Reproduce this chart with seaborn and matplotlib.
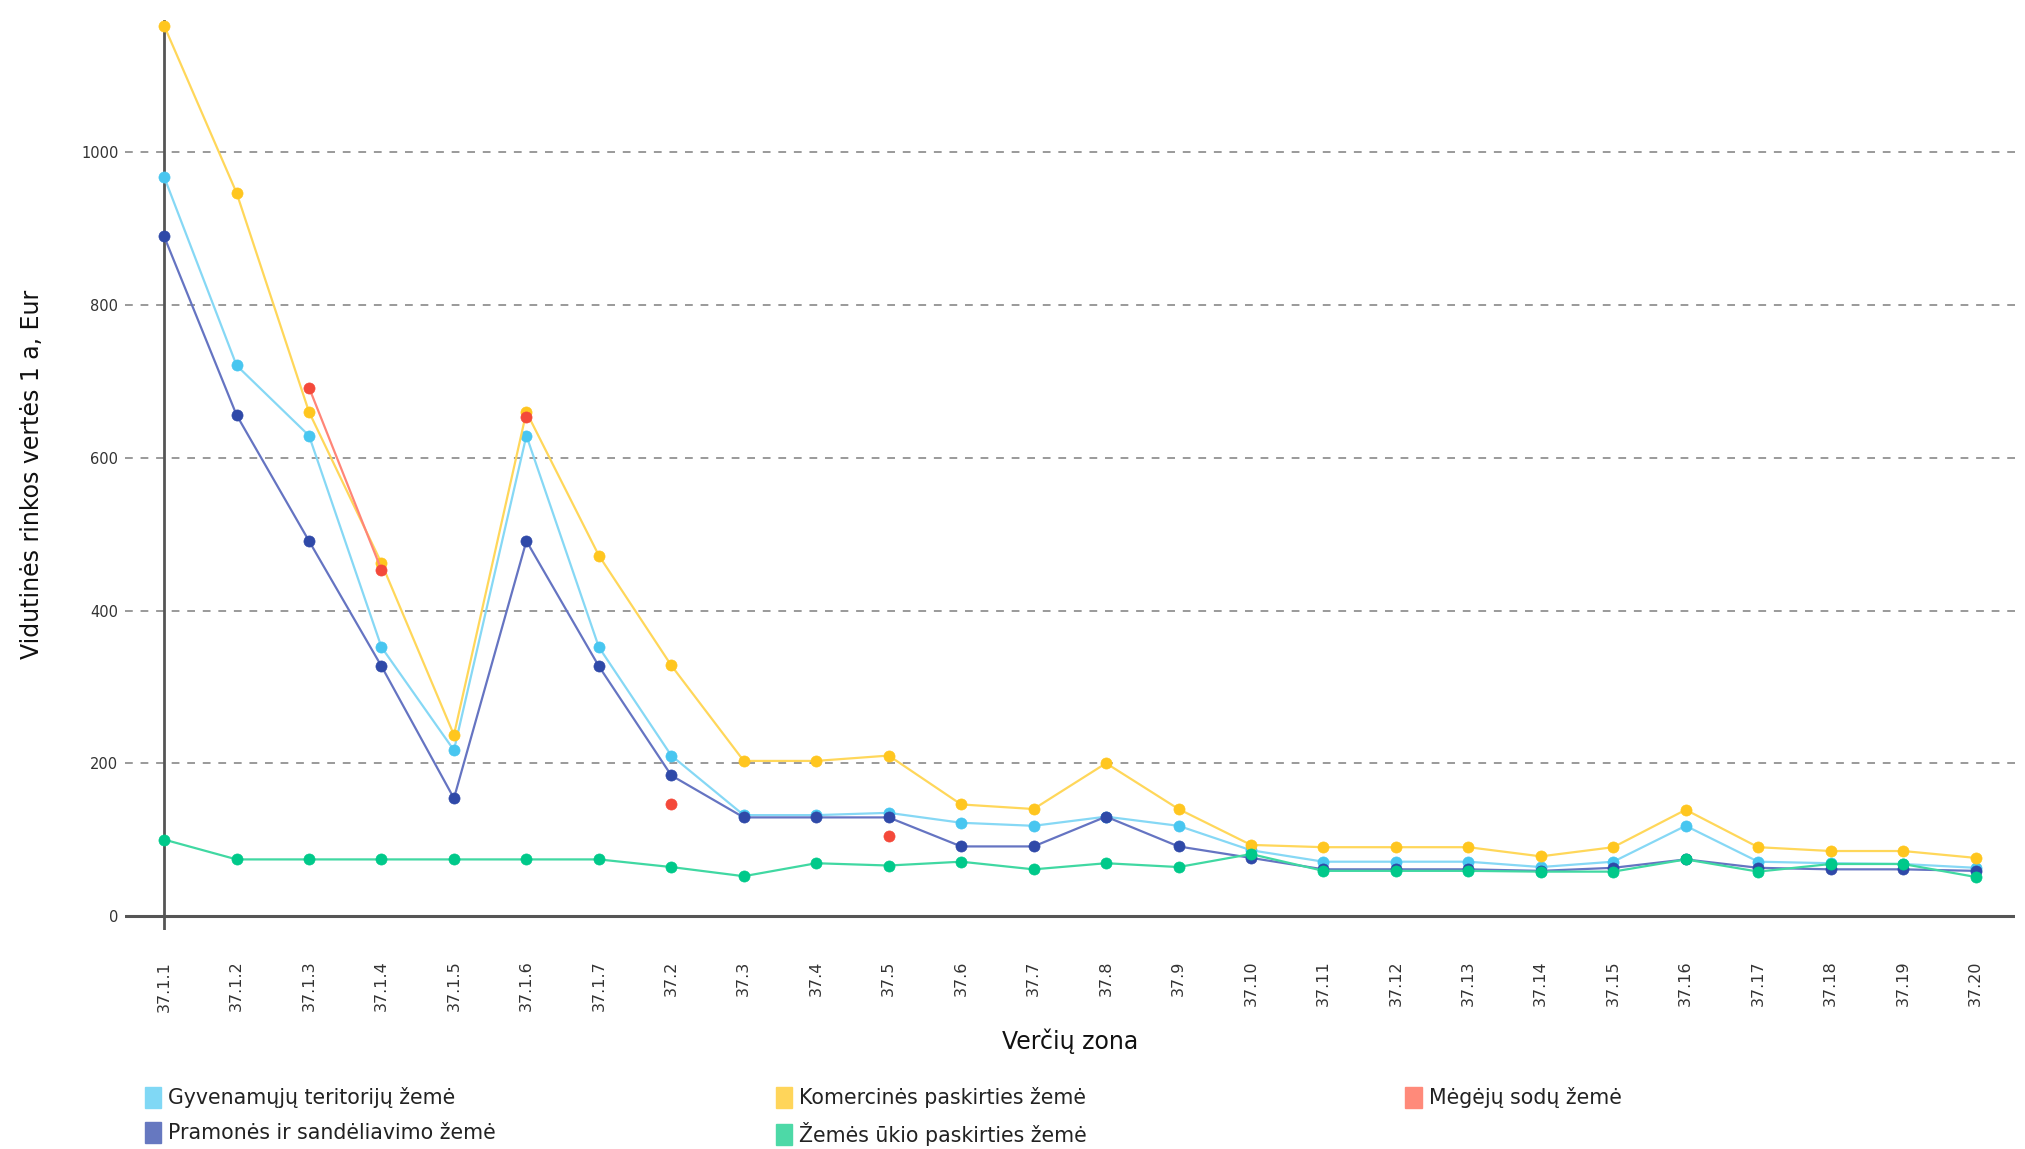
import numpy as np
import matplotlib.pyplot as plt
import seaborn as sns
from matplotlib.patches import Patch

# Zones on the x axis
zones = ["37.1.1", "37.1.2", "37.1.3", "37.1.4", "37.1.5", "37.1.6", "37.1.7",
         "37.2", "37.3", "37.4", "37.5", "37.6", "37.7", "37.8", "37.9", "37.10",
         "37.11", "37.12", "37.13", "37.14", "37.15", "37.16", "37.17", "37.18",
         "37.19", "37.20"]

# Average market value per 1 a, Eur
gyvenamuju = [968, 721, 629, 352, 217, 629, 352, 210, 132, 132, 135, 122, 118,
              130, 118, 86, 71, 71, 71, 64, 71, 118, 71, 69, 68, 63]
komercines = [1166, 947, 660, 462, 237, 660, 472, 328, 203, 203, 210, 146, 140,
              200, 140, 93, 90, 90, 90, 78, 90, 139, 90, 85, 85, 76]
megeju = [np.nan, np.nan, 692, 453, np.nan, 653, np.nan, 146, np.nan, np.nan, 105,
          np.nan, np.nan, np.nan, np.nan, np.nan, np.nan, np.nan, np.nan, np.nan,
          np.nan, np.nan, np.nan, np.nan, np.nan, np.nan]
pramones = [890, 656, 491, 327, 154, 491, 327, 184, 129, 129, 129, 91, 91,
            130, 91, 76, 61, 61, 61, 59, 63, 74, 63, 61, 61, 59]
zemes_ukio = [100, 74, 74, 74, 74, 74, 74, 64, 52, 69, 66, 71, 61,
              69, 64, 81, 59, 59, 59, 58, 58, 74, 58, 68, 68, 51]

y_ticks = [0, 200, 400, 600, 800, 1000]

labels = {
    "gyv": "Gyvenamųjų teritorijų žemė",
    "kom": "Komercinės paskirties žemė",
    "meg": "Mėgėjų sodų žemė",
    "pra": "Pramonės ir sandėliavimo žemė",
    "zem": "Žemės ūkio paskirties žemė",
}
# (line colour, marker colour, legend patch colour)
colors = {
    "gyv": ("#86d8f5", "#48c6f0", "#80d8f5"),
    "kom": ("#ffd75a", "#ffc61f", "#ffd55a"),
    "meg": ("#ff8577", "#f4493a", "#ff8a7a"),
    "pra": ("#6574c2", "#2f49a8", "#6678c0"),
    "zem": ("#40d8a2", "#00c98a", "#4dd9a7"),
}

sns.set_theme(style="white")
plt.rcParams["font.family"] = ["DejaVu Sans"]

fig = plt.figure(figsize=(20.25, 11.49), dpi=100)
ax = fig.add_axes([0.0619, 0.1905, 0.933, 0.7925])

x = np.arange(len(zones))
series = [("gyv", gyvenamuju), ("kom", komercines), ("pra", pramones), ("zem", zemes_ukio)]
for key, vals in series:
    line_c, mark_c, _ = colors[key]
    sns.lineplot(x=x, y=vals, ax=ax, color=line_c, linewidth=1.6, sort=False,
                 marker="o", markersize=8, markerfacecolor=mark_c,
                 markeredgecolor=mark_c, markeredgewidth=0.5, zorder=3)

# Mėgėjų sodų series has gaps, plain plot keeps them broken
line_c, mark_c, _ = colors["meg"]
ax.plot(x, megeju, color=line_c, linewidth=1.6, marker="o", markersize=8,
        markerfacecolor=mark_c, markeredgecolor=mark_c, markeredgewidth=0.5, zorder=4)

ax.set_xlim(-0.535, 25.54)
ax.set_ylim(-18.6, 1174)

# grid lines and axis lines
for t in y_ticks[1:]:
    ax.axhline(t, color="#9a9a9a", linestyle=(0, (4, 4)), linewidth=1.4, zorder=1)
ax.axhline(0, color="#555555", linewidth=2.2, zorder=2)
ax.axvline(0, color="#555555", linewidth=2.0, zorder=2)
for s in ax.spines.values():
    s.set_visible(False)

ax.set_yticks(y_ticks)
ax.set_yticklabels([str(t) for t in y_ticks])
ax.set_xticks(x)
ax.set_xticklabels(zones, rotation=90)
ax.tick_params(axis="y", length=0, pad=5, labelsize=10.5, labelcolor="#333333")
ax.tick_params(axis="x", length=0, pad=22, labelsize=11.5, labelcolor="#333333")
for lab in ax.get_xticklabels():
    lab.set_verticalalignment("top")

ax.set_ylabel("Vidutinės rinkos vertės 1 a, Eur", fontsize=17, color="#111111")
ax.yaxis.set_label_coords(-0.043, 0.5)
ax.set_xlabel("Verčių zona", fontsize=17, color="#111111")
ax.xaxis.set_label_coords(0.5, -0.108)

# legend in three columns
cols = [(0.0714, ["gyv", "pra"]), (0.383, ["kom", "zem"]), (0.694, ["meg"])]
for xpos, keys in cols:
    handles = [Patch(facecolor=colors[k][2], edgecolor=colors[k][2]) for k in keys]
    leg = fig.legend(handles, [labels[k] for k in keys], loc="upper left",
                     bbox_to_anchor=(xpos, 0.054), frameon=False, fontsize=14.8,
                     handlelength=0.8, handleheight=1.2, handletextpad=0.35,
                     labelspacing=0.65, borderpad=0, borderaxespad=0)
    for txt in leg.get_texts():
        txt.set_color("#222222")

fig.savefig("out.png", dpi=100)
